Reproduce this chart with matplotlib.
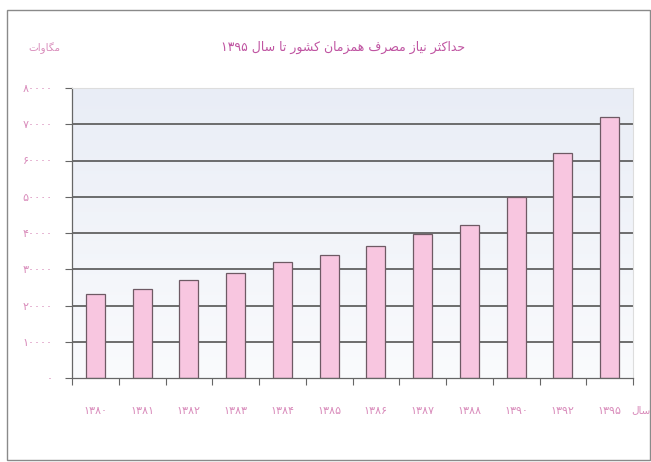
import numpy as np
import matplotlib
matplotlib.use("Agg")
import matplotlib.pyplot as plt
from matplotlib.patches import Rectangle
from matplotlib.colors import LinearSegmentedColormap

plt.rcParams['font.family'] = ['DejaVu Sans']

# ---------------- data ----------------
years = ['۱۳۸۰', '۱۳۸۱', '۱۳۸۲', '۱۳۸۳', '۱۳۸۴', '۱۳۸۵',
         '۱۳۸۶', '۱۳۸۷', '۱۳۸۸', '۱۳۹۰', '۱۳۹۲', '۱۳۹۵']
demand_mw = [23100, 24500, 26900, 28900, 32100, 33900,
             36500, 39600, 42200, 49800, 62200, 72100]
ytick_values = [0, 10000, 20000, 30000, 40000, 50000, 60000, 70000, 80000]
ytick_labels = ['۰', '۱۰۰۰۰', '۲۰۰۰۰', '۳۰۰۰۰', '۴۰۰۰۰',
                '۵۰۰۰۰', '۶۰۰۰۰', '۷۰۰۰۰', '۸۰۰۰۰']
title_text = 'حداکثر نیاز مصرف همزمان کشور تا سال ۱۳۹۵'
ylabel_text = 'مگاوات'
xlabel_text = 'سال'

# ---------------- minimal Persian shaping (visual order) ----------------
FORMS = {  # isolated, final, initial, medial
    '\u0627': ('\uFE8D', '\uFE8E', None, None),
    '\u062F': ('\uFEA9', '\uFEAA', None, None),
    '\u0631': ('\uFEAD', '\uFEAE', None, None),
    '\u0632': ('\uFEAF', '\uFEB0', None, None),
    '\u0648': ('\uFEED', '\uFEEE', None, None),
    '\u062D': ('\uFEA1', '\uFEA2', '\uFEA3', '\uFEA4'),
    '\u062B': ('\uFE99', '\uFE9A', '\uFE9B', '\uFE9C'),
    '\u062A': ('\uFE95', '\uFE96', '\uFE97', '\uFE98'),
    '\u0646': ('\uFEE5', '\uFEE6', '\uFEE7', '\uFEE8'),
    '\u0645': ('\uFEE1', '\uFEE2', '\uFEE3', '\uFEE4'),
    '\u0635': ('\uFEB9', '\uFEBA', '\uFEBB', '\uFEBC'),
    '\u0641': ('\uFED1', '\uFED2', '\uFED3', '\uFED4'),
    '\u0647': ('\uFEE9', '\uFEEA', '\uFEEB', '\uFEEC'),
    '\u0634': ('\uFEB5', '\uFEB6', '\uFEB7', '\uFEB8'),
    '\u0633': ('\uFEB1', '\uFEB2', '\uFEB3', '\uFEB4'),
    '\u0644': ('\uFEDD', '\uFEDE', '\uFEDF', '\uFEE0'),
    '\u06A9': ('\uFB8E', '\uFB8F', '\uFB90', '\uFB91'),
    '\u06AF': ('\uFB92', '\uFB93', '\uFB94', '\uFB95'),
    '\u06CC': ('\uFBFC', '\uFBFD', '\uFBFE', '\uFBFF'),
}


def shape_word(w):
    out = []
    for i, c in enumerate(w):
        if c not in FORMS:
            out.append(c)
            continue
        prev = w[i - 1] if i > 0 else None
        nxt = w[i + 1] if i + 1 < len(w) else None
        jp = prev in FORMS and FORMS[prev][2] is not None
        jn = FORMS[c][2] is not None and nxt in FORMS
        iso, fin, ini, med = FORMS[c]
        if jp and jn:
            out.append(med)
        elif jp:
            out.append(fin)
        elif jn:
            out.append(ini)
        else:
            out.append(iso)
    return ''.join(out)


def rtl(text):
    words = text.split(' ')
    vis = []
    for w in reversed(words):
        if any(ch in FORMS for ch in w):
            vis.append(shape_word(w)[::-1])
        else:
            vis.append(w)
    return ' '.join(vis)


# ---------------- figure ----------------
W, H = 651, 462
fig = plt.figure(figsize=(W / 100, H / 100), dpi=100)
fig.patch.set_facecolor('white')

# outer frame
fig.add_artist(Rectangle((7 / W, 1 - 460 / H), (650 - 7) / W, (460 - 10) / H,
                         transform=fig.transFigure, fill=False,
                         edgecolor='#8a8a8a', lw=1.0))

ax = fig.add_axes([72 / W, 1 - 378 / H, (633 - 72) / W, (378 - 88) / H])
x = np.arange(len(years))

# gradient background
grad = np.linspace(0, 1, 256).reshape(-1, 1)
cmap = LinearSegmentedColormap.from_list('bg', ['#fafbfd', '#e9edf6'])
ax.imshow(grad, extent=[-0.5, len(years) - 0.5, 0, 80000], origin='lower',
          aspect='auto', cmap=cmap, zorder=0)
ax.set_xlim(-0.5, len(years) - 0.5)
ax.set_ylim(0, 80000)

for v in ytick_values[1:-1]:
    ax.axhline(v, color='#555555', lw=1.2, zorder=1)

ax.bar(x, demand_mw, width=0.41, color='#f8c6e0', edgecolor='#6e5a64',
       linewidth=0.9, zorder=2)

ax.set_yticks(ytick_values)
ax.set_yticklabels(ytick_labels)
ax.set_xticks(x)
ax.set_xticklabels(years)
ax.set_xticks(np.arange(-0.5, len(years), 1.0), minor=True)

lab_col = '#d98cbb'
ax.tick_params(axis='y', direction='out', length=5, width=0.8, color='#666666',
               labelsize=8, labelcolor=lab_col, pad=9)
ax.tick_params(axis='x', which='major', length=0, labelsize=8,
               labelcolor=lab_col, pad=20)
ax.tick_params(axis='x', which='minor', direction='out', length=5, width=0.8,
               color='#666666')

for s in ['left', 'bottom']:
    ax.spines[s].set_color('#666666')
    ax.spines[s].set_linewidth(0.9)
for s in ['top', 'right']:
    ax.spines[s].set_color('#dddddd')
    ax.spines[s].set_linewidth(0.8)

fig.text(343 / W, 1 - 47 / H, rtl(title_text), ha='center', va='center',
         fontsize=9, color='#c055a2')
fig.text(44 / W, 1 - 48 / H, rtl(ylabel_text), ha='center', va='center',
         fontsize=7.5, color=lab_col)
fig.text(641 / W, 1 - 410 / H, rtl(xlabel_text), ha='center', va='center',
         fontsize=7.5, color=lab_col)

fig.savefig('out.png', dpi=100)
